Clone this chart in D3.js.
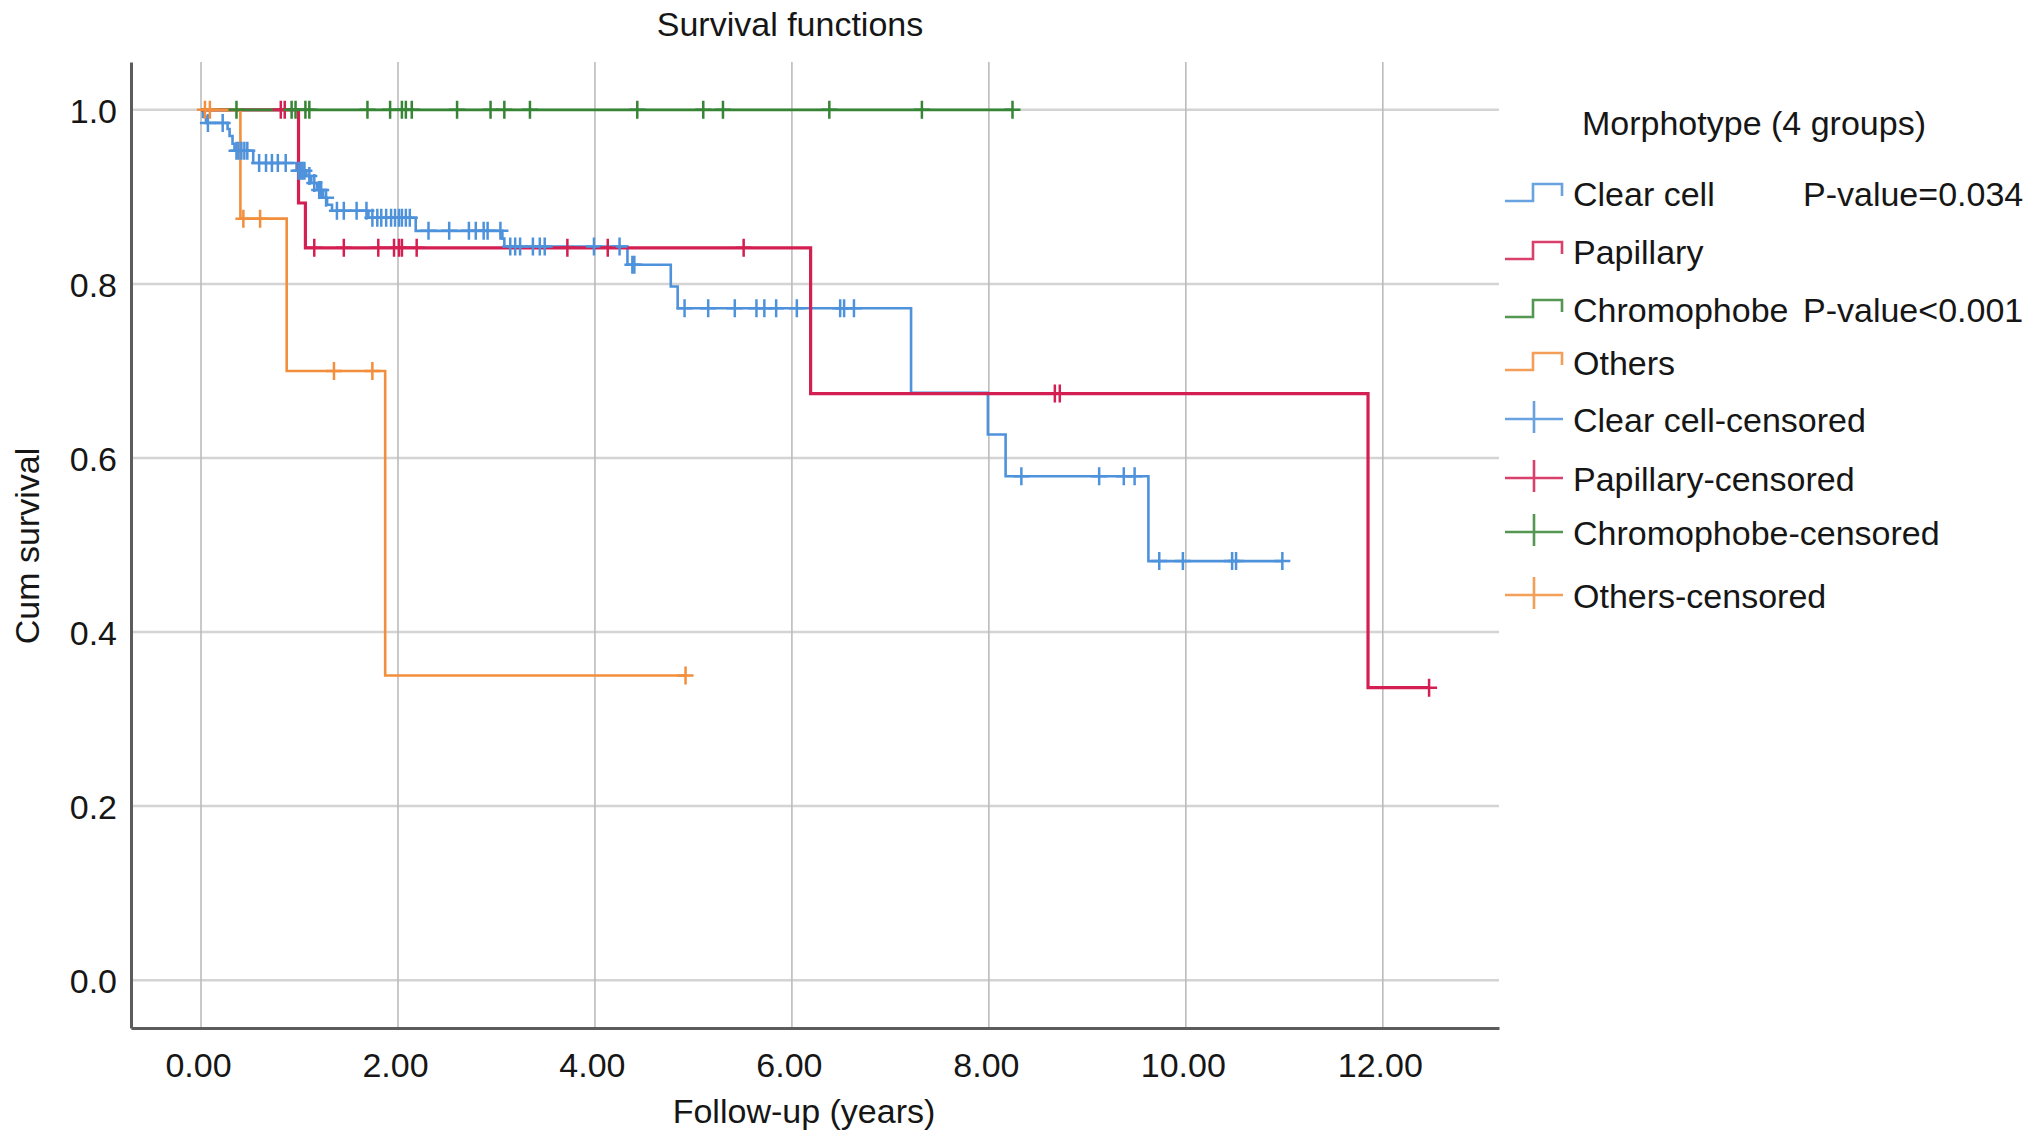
<!DOCTYPE html>
<html>
<head>
<meta charset="utf-8">
<script src="https://cdn.jsdelivr.net/npm/d3@7"></script>
<style>
  body { margin: 0; background: #fff; }
  svg { display: block; }
  text { font-family: "Liberation Sans", Arial, sans-serif; fill: #161616; }
</style>
</head>
<body>
<svg id="chart"></svg>
<script>
// --- Data ---
const xTicks = [0, 2, 4, 6, 8, 10, 12];
const yTicks = [0, 0.2, 0.4, 0.6, 0.8, 1.0];
const groupNames = ["Clear cell", "Papillary", "Chromophobe", "Others"];
const groupColors = ["#4f92dc", "#d41f52", "#358535", "#f28e3c"];

// step times (years) and survival after each step
const clearTimes = [0, 0.02, 0.05, 0.27, 0.29, 0.32, 0.34, 0.53, 0.97, 1.07, 1.12, 1.18, 1.24, 1.28, 1.33, 1.70, 2.18, 3.06, 3.08, 4.33, 4.77, 4.84, 7.21, 7.99, 8.17, 9.62];
const clearSurv = [1.0, 0.992, 0.985, 0.978, 0.970, 0.961, 0.953, 0.939, 0.930, 0.924, 0.916, 0.908, 0.899, 0.891, 0.884, 0.876, 0.861, 0.852, 0.843, 0.822, 0.797, 0.772, 0.675, 0.627, 0.579, 0.4815];
const clearCensored = [0.07, 0.22, 0.36, 0.38, 0.41, 0.44, 0.47, 0.59, 0.66, 0.72, 0.78, 0.86, 0.99, 1.01, 1.03, 1.05, 1.10, 1.15, 1.20, 1.22, 1.27, 1.38, 1.45, 1.58, 1.68, 1.74, 1.79, 1.83, 1.88, 1.93, 1.97, 2.01, 2.04, 2.08, 2.12, 2.31, 2.52, 2.72, 2.79, 2.87, 2.91, 3.04, 3.14, 3.19, 3.24, 3.37, 3.44, 3.49, 3.99, 4.25, 4.38, 4.40, 4.91, 5.15, 5.42, 5.64, 5.72, 5.84, 6.05, 6.49, 6.53, 6.63, 8.33, 9.12, 9.37, 9.48, 9.73, 9.97, 10.47, 10.51, 10.98];

const papTimes = [0, 0.99, 1.06, 6.19, 11.85];
const papSurv = [1.0, 0.893, 0.8415, 0.674, 0.336];
const papCensored = [0.81, 0.85, 1.15, 1.45, 1.80, 1.96, 2.01, 2.04, 2.19, 3.72, 4.13, 5.51, 8.67, 8.72, 12.47];

const chromoTimes = [0];
const chromoSurv = [1.0];
const chromoCensored = [0.36, 0.92, 0.96, 1.06, 1.10, 1.69, 1.92, 2.04, 2.08, 2.14, 2.60, 2.94, 3.08, 3.34, 4.43, 5.10, 5.30, 6.38, 7.32, 8.24];

const otherTimes = [0, 0.40, 0.87, 1.87];
const otherSurv = [1.0, 0.875, 0.70, 0.35];
const otherCensored = [0.04, 0.09, 0.43, 0.60, 1.35, 1.74, 4.92];

const legendLabels = ["Clear cell", "Papillary", "Chromophobe", "Others", "Clear cell-censored", "Papillary-censored", "Chromophobe-censored", "Others-censored"];

// --- Setup ---
const width = 2032;
const height = 1146;
const fontSize = "34px";
const svg = d3.select("#chart").attr("width", width).attr("height", height);

const x = d3.scaleLinear().domain([-0.711, 13.18]).range([131, 1499]);
const y = d3.scaleLinear().domain([-0.055, 1.055]).range([1028, 62]);

const series = [
  { times: clearTimes, surv: clearSurv, censored: clearCensored, lw: 2.6 },
  { times: papTimes, surv: papSurv, censored: papCensored, lw: 3.2 },
  { times: chromoTimes, surv: chromoSurv, censored: chromoCensored, lw: 2.8 },
  { times: otherTimes, surv: otherSurv, censored: otherCensored, lw: 2.6 },
].map((s, i) => ({ ...s, name: groupNames[i], color: groupColors[i] }));

// survival value at time t (step function)
const survAt = (s, t) => {
  const idx = d3.bisectRight(s.times, t) - 1;
  return s.surv[Math.max(0, idx)];
};

// --- Grid ---
svg.append("g")
  .selectAll("line")
  .data(yTicks)
  .join("line")
  .attr("x1", x.range()[0])
  .attr("x2", x.range()[1])
  .attr("y1", (d) => y(d))
  .attr("y2", (d) => y(d))
  .attr("stroke", "#d4d4d4")
  .attr("stroke-width", 2.5);

svg.append("g")
  .selectAll("line")
  .data(xTicks)
  .join("line")
  .attr("x1", (d) => x(d))
  .attr("x2", (d) => x(d))
  .attr("y1", y.range()[0])
  .attr("y2", y.range()[1])
  .attr("stroke", "#bcbcbc")
  .attr("stroke-width", 1.6);

// --- Axes ---
const yAxis = svg.append("g")
  .attr("transform", `translate(${x.range()[0]},0)`)
  .call(d3.axisLeft(y).tickValues(yTicks).tickFormat(d3.format(".1f")).tickSize(0).tickSizeOuter(0).tickPadding(14));

const xAxis = svg.append("g")
  .attr("transform", `translate(0,${y.range()[0]})`)
  .call(d3.axisBottom(x).tickValues(xTicks).tickFormat(d3.format(".2f")).tickSize(0).tickSizeOuter(0).tickPadding(25));

[yAxis, xAxis].forEach((g) => {
  g.select(".domain").attr("stroke", "#5c5c5c").attr("stroke-width", 3);
  g.selectAll("text").style("font-size", fontSize).attr("fill", "#161616");
});
yAxis.selectAll("text").attr("dy", "0.36em");
xAxis.selectAll("text").attr("dx", "-3");

// --- Survival curves ---
const stepLine = d3.line()
  .x((d) => x(d[0]))
  .y((d) => y(d[1]))
  .curve(d3.curveStepAfter);

series.forEach((s) => {
  const pts = s.times.map((t, i) => [t, s.surv[i]]);
  const tEnd = Math.max(d3.max(s.censored), d3.max(s.times));
  pts.push([tEnd, s.surv[s.surv.length - 1]]);
  svg.append("path")
    .datum(pts)
    .attr("d", stepLine)
    .attr("fill", "none")
    .attr("stroke", s.color)
    .attr("stroke-width", s.lw);
});

// --- Censor marks ---
series.forEach((s) => {
  const g = svg.append("g").attr("stroke", s.color).attr("stroke-width", 2.5);
  g.selectAll("path")
    .data(s.censored)
    .join("path")
    .attr("d", (t) => {
      const cx = x(t);
      const cy = y(survAt(s, t));
      return `M${cx},${cy - 9}V${cy + 9}M${cx - 8},${cy}H${cx + 8}`;
    });
});

// --- Title & axis labels ---
svg.append("text")
  .attr("x", 790)
  .attr("y", 36)
  .attr("text-anchor", "middle")
  .style("font-size", fontSize)
  .text("Survival functions");

svg.append("text")
  .attr("x", 804)
  .attr("y", 1123)
  .attr("text-anchor", "middle")
  .style("font-size", fontSize)
  .text("Follow-up (years)");

svg.append("text")
  .attr("transform", "translate(39,546) rotate(-90)")
  .attr("text-anchor", "middle")
  .style("font-size", fontSize)
  .text("Cum survival");

// --- Legend ---
const legendX = 1505;
const legendBase = [206, 264, 322, 375, 432, 491, 545, 608];

svg.append("text")
  .attr("x", 1582)
  .attr("y", 135)
  .style("font-size", fontSize)
  .text("Morphotype (4 groups)");

const legend = svg.append("g");
legendLabels.forEach((label, i) => {
  const b = legendBase[i];
  const color = groupColors[i % 4];
  const d = i < 4
    ? `M${legendX},${b - 5}H${legendX + 28}V${b - 22}H${legendX + 57}V${b - 10}`
    : `M${legendX},${b - 13}H${legendX + 58}M${legendX + 29},${b - 31}V${b + 1}`;
  legend.append("path")
    .attr("d", d)
    .attr("fill", "none")
    .attr("stroke", color)
    .attr("stroke-width", 2.6)
    .attr("opacity", 0.85);
  legend.append("text")
    .attr("x", 1573)
    .attr("y", b)
    .style("font-size", fontSize)
    .text(label);
});

legend.append("text").attr("x", 1803).attr("y", legendBase[0]).style("font-size", fontSize).text("P-value=0.034");
legend.append("text").attr("x", 1803).attr("y", legendBase[2]).style("font-size", fontSize).text("P-value<0.001");
</script>
</body>
</html>
